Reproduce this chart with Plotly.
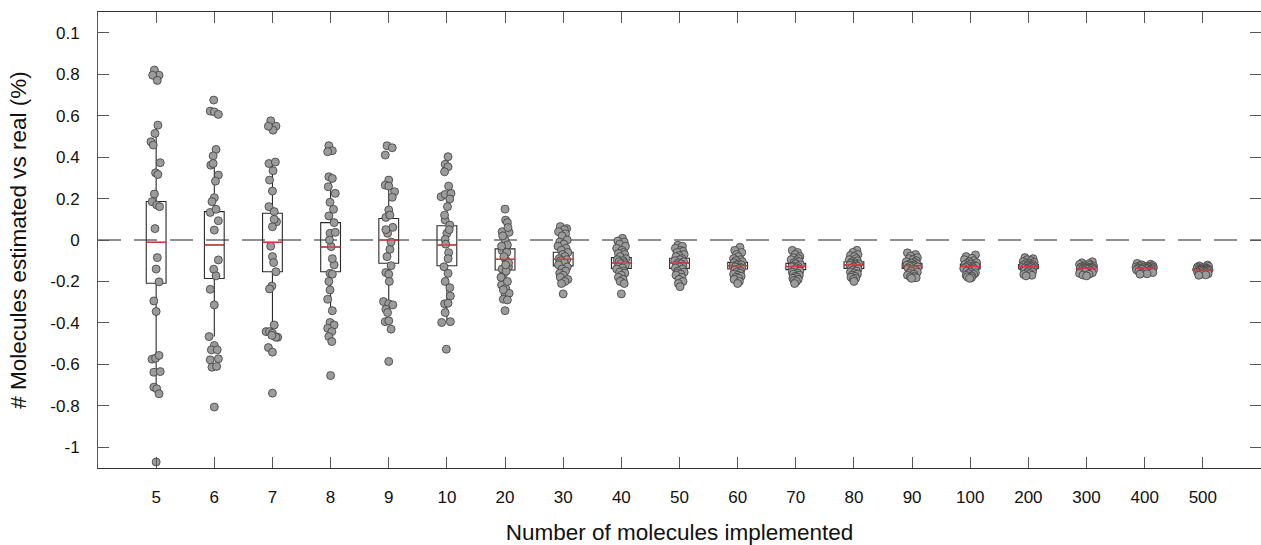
import plotly.graph_objects as go

# ---------------- data ----------------
categories = ["5", "6", "7", "8", "9", "10", "20", "30", "40", "50",
              "60", "70", "80", "90", "100", "200", "300", "400", "500"]

y_tickvals = [-1, -0.8, -0.6, -0.4, -0.2, 0, 0.2, 0.4, 0.6, 0.8, 1.0]
y_ticktext = ["-1", "-0.8", "-0.6", "-0.4", "-0.2", "0", "0.2", "0.4", "0.6", "0.8", "0.1"]

# box statistics per category
q1 = [-0.209, -0.186, -0.153, -0.153, -0.112, -0.124, -0.145, -0.125, -0.137, -0.137,
      -0.140, -0.143, -0.137, -0.137, -0.140, -0.138, -0.142, -0.141, -0.148]
median = [-0.011, -0.024, -0.011, -0.034, 0.000, -0.024, -0.093, -0.093, -0.111, -0.111,
          -0.124, -0.128, -0.120, -0.124, -0.128, -0.128, -0.136, -0.136, -0.144]
q3 = [0.186, 0.137, 0.129, 0.084, 0.104, 0.069, -0.043, -0.059, -0.085, -0.088,
      -0.108, -0.113, -0.105, -0.112, -0.116, -0.118, -0.130, -0.131, -0.140]
whisker_low = [-0.740, -0.466, -0.450, -0.360, -0.320, -0.390, -0.290, -0.210, -0.200, -0.210,
               -0.200, -0.200, -0.190, -0.180, -0.180, -0.170, -0.170, -0.165, -0.170]
whisker_high = [0.554, 0.434, 0.370, 0.280, 0.300, 0.230, 0.100, 0.060, 0.000, -0.030,
                -0.040, -0.050, -0.050, -0.065, -0.075, -0.085, -0.105, -0.113, -0.121]

# individual measurements per category
vals_5 = [0.82, 0.795, 0.795, 0.77, 0.554, 0.514, 0.474, 0.458, 0.373, 0.324, 0.316, 0.222,
          0.185, 0.169, 0.161, 0.055, -0.085, -0.14, -0.202, -0.294, -0.345, -0.575, -0.57,
          -0.557, -0.638, -0.635, -0.71, -0.718, -0.742, -1.071]
vals_6 = [0.675, 0.622, 0.618, 0.606, 0.437, 0.406, 0.361, 0.369, 0.313, 0.284, 0.204, 0.185,
          0.133, 0.148, 0.093, 0.048, -0.096, -0.141, -0.173, -0.238, -0.313, -0.466, -0.509,
          -0.53, -0.53, -0.578, -0.573, -0.614, -0.61, -0.806]
vals_7 = [0.575, 0.549, 0.53, 0.549, 0.369, 0.376, 0.334, 0.289, 0.236, 0.161, 0.137, 0.088,
          0.064, -0.08, -0.109, -0.153, -0.222, -0.236, -0.41, -0.442, -0.442, -0.45, -0.469,
          -0.469, -0.519, -0.541, -0.739, 0.10, -0.03, -0.46]
vals_8 = [0.455, 0.431, 0.426, 0.305, 0.297, 0.257, 0.225, 0.182, 0.148, 0.116, 0.084, 0.032,
          0.037, -0.032, -0.12, -0.161, -0.165, -0.2, -0.241, -0.286, -0.341, -0.398, -0.41,
          -0.426, -0.442, -0.466, -0.49, -0.654, 0.0, -0.09]
vals_9 = [0.455, 0.445, 0.41, 0.289, 0.265, 0.26, 0.233, 0.206, 0.145, 0.109, 0.061, 0.032,
          -0.045, -0.124, -0.157, -0.165, -0.297, -0.308, -0.313, -0.334, -0.394, -0.39, -0.43,
          -0.586, 0.12, 0.05, -0.01, -0.08, -0.2, -0.35]
vals_10 = [0.402, 0.365, 0.353, 0.329, 0.209, 0.22, 0.225, 0.198, 0.161, 0.096, 0.072, 0.032,
           0.003, -0.061, -0.129, -0.161, -0.27, -0.308, -0.305, -0.35, -0.398, -0.394, -0.527,
           0.26, 0.12, 0.05, -0.02, -0.09, -0.2, -0.23]
vals_20 = [0.149, 0.096, 0.084, 0.04, 0.037, 0.0, -0.024, -0.051, -0.096, -0.129, -0.161, -0.217,
           -0.233, -0.262, -0.257, -0.286, -0.289, -0.341, 0.02, 0.06, -0.03, -0.06, -0.08, -0.11,
           -0.14, -0.15, -0.18, -0.2, -0.24, -0.12]
vals_30 = [0.065, 0.055, 0.05, 0.04, 0.03, 0.02, 0.0, -0.01, -0.02, -0.03, -0.04, -0.05, -0.06,
           -0.07, -0.08, -0.09, -0.095, -0.1, -0.11, -0.12, -0.13, -0.14, -0.15, -0.16, -0.17,
           -0.18, -0.19, -0.2, -0.21, -0.26]
vals_40 = [0.008, -0.005, -0.01, -0.02, -0.03, -0.04, -0.05, -0.06, -0.065, -0.07, -0.08, -0.09,
           -0.095, -0.1, -0.105, -0.11, -0.115, -0.12, -0.13, -0.135, -0.14, -0.15, -0.155, -0.16,
           -0.17, -0.18, -0.19, -0.2, -0.21, -0.26]
vals_50 = [-0.025, -0.03, -0.04, -0.05, -0.055, -0.06, -0.07, -0.075, -0.08, -0.09, -0.095, -0.1,
           -0.105, -0.11, -0.115, -0.12, -0.125, -0.13, -0.135, -0.14, -0.15, -0.155, -0.16, -0.165,
           -0.17, -0.18, -0.19, -0.2, -0.21, -0.225]
vals_60 = [-0.035, -0.05, -0.06, -0.07, -0.08, -0.09, -0.095, -0.1, -0.105, -0.11, -0.115, -0.12,
           -0.12, -0.125, -0.13, -0.13, -0.135, -0.14, -0.145, -0.15, -0.155, -0.16, -0.165, -0.17,
           -0.175, -0.18, -0.185, -0.19, -0.2, -0.21]
vals_70 = [-0.05, -0.06, -0.07, -0.08, -0.085, -0.09, -0.095, -0.1, -0.105, -0.11, -0.115, -0.12,
           -0.125, -0.128, -0.13, -0.135, -0.14, -0.145, -0.15, -0.155, -0.16, -0.165, -0.17,
           -0.175, -0.18, -0.185, -0.19, -0.195, -0.2, -0.21]
vals_80 = [-0.05, -0.06, -0.07, -0.075, -0.08, -0.09, -0.095, -0.1, -0.105, -0.11, -0.112, -0.115,
           -0.118, -0.12, -0.122, -0.125, -0.13, -0.135, -0.14, -0.145, -0.15, -0.155, -0.16,
           -0.165, -0.17, -0.175, -0.18, -0.185, -0.19, -0.2]
vals_90 = [-0.062, -0.07, -0.078, -0.085, -0.09, -0.095, -0.1, -0.105, -0.108, -0.112, -0.115,
           -0.118, -0.12, -0.122, -0.124, -0.126, -0.128, -0.13, -0.135, -0.14, -0.145, -0.15,
           -0.155, -0.16, -0.165, -0.17, -0.175, -0.178, -0.182, -0.185]
vals_100 = [-0.072, -0.08, -0.088, -0.095, -0.1, -0.105, -0.11, -0.113, -0.116, -0.119, -0.122,
            -0.124, -0.126, -0.128, -0.13, -0.132, -0.135, -0.138, -0.141, -0.145, -0.15, -0.155,
            -0.158, -0.162, -0.166, -0.17, -0.174, -0.178, -0.182, -0.185]
vals_200 = [-0.085, -0.09, -0.095, -0.1, -0.105, -0.108, -0.111, -0.114, -0.117, -0.12, -0.122,
            -0.124, -0.126, -0.128, -0.129, -0.13, -0.132, -0.134, -0.136, -0.138, -0.141, -0.144,
            -0.147, -0.15, -0.154, -0.158, -0.162, -0.166, -0.17, -0.173]
vals_300 = [-0.105, -0.11, -0.114, -0.118, -0.121, -0.124, -0.126, -0.128, -0.13, -0.131, -0.132,
            -0.134, -0.135, -0.136, -0.137, -0.138, -0.139, -0.14, -0.142, -0.144, -0.146, -0.148,
            -0.15, -0.152, -0.155, -0.158, -0.161, -0.165, -0.169, -0.173]
vals_400 = [-0.113, -0.117, -0.12, -0.123, -0.125, -0.127, -0.129, -0.13, -0.131, -0.132, -0.133,
            -0.134, -0.135, -0.136, -0.137, -0.138, -0.139, -0.14, -0.141, -0.142, -0.144, -0.146,
            -0.148, -0.15, -0.152, -0.154, -0.157, -0.16, -0.163, -0.165]
vals_500 = [-0.121, -0.125, -0.128, -0.131, -0.133, -0.135, -0.137, -0.138, -0.139, -0.14, -0.141,
            -0.142, -0.143, -0.144, -0.145, -0.146, -0.147, -0.148, -0.149, -0.15, -0.151, -0.153,
            -0.155, -0.157, -0.159, -0.161, -0.163, -0.165, -0.168, -0.17]

# horizontal jitter of each point (category units)
jit_5 = [-0.03, 0.05, -0.06, 0.02, 0.03, -0.02, -0.09, -0.05, 0.07, -0.01, 0.03, -0.03, -0.07, 0.01,
         0.06, -0.02, 0.02, 0.0, 0.05, -0.04, 0.0, -0.07, -0.01, 0.05, -0.04, 0.07, -0.04, 0.01, 0.05, 0.0]
jit_6 = [-0.01, -0.07, 0.0, 0.07, 0.03, -0.02, -0.06, -0.02, 0.07, 0.02, 0.0, -0.04, -0.07, 0.03,
         0.07, 0.0, 0.07, -0.01, 0.03, -0.07, 0.0, -0.09, 0.0, -0.05, 0.05, -0.07, 0.07, -0.04, 0.04, 0.0]
jit_7 = [-0.03, 0.06, 0.01, -0.07, -0.06, 0.05, 0.01, -0.05, 0.0, -0.06, 0.03, 0.07, 0.0, 0.0,
         0.02, 0.06, -0.01, -0.05, 0.03, -0.11, -0.05, 0.0, 0.09, 0.06, -0.07, 0.0, 0.0, 0.03, -0.03, -0.01]
jit_8 = [-0.03, 0.03, -0.05, -0.03, 0.03, -0.04, 0.08, -0.01, 0.05, -0.03, 0.06, -0.01, 0.08, 0.01,
         0.06, -0.01, 0.03, -0.03, -0.01, -0.05, 0.03, -0.01, 0.06, -0.05, 0.02, -0.03, 0.02, 0.0, -0.02, 0.03]
jit_9 = [-0.03, 0.06, -0.06, 0.0, -0.06, 0.0, 0.1, 0.06, 0.0, -0.05, 0.07, -0.02, 0.02, 0.04,
         -0.05, 0.0, -0.09, 0.0, 0.07, -0.05, -0.06, 0.0, 0.04, 0.0, 0.02, -0.05, 0.04, -0.03, 0.01, -0.02]
jit_10 = [0.02, -0.03, 0.02, -0.04, -0.1, -0.03, 0.07, 0.05, 0.01, -0.03, 0.05, 0.0, -0.03, 0.03,
          -0.05, 0.02, 0.06, -0.04, 0.02, -0.03, -0.09, 0.06, -0.01, 0.03, -0.04, 0.04, -0.02, 0.02, -0.03, 0.05]
jit_20 = [0.0, 0.01, 0.04, -0.05, 0.07, 0.0, 0.04, -0.05, 0.01, 0.06, -0.02, -0.06, 0.01, 0.0,
          0.07, -0.03, 0.04, 0.0, -0.04, 0.05, -0.06, 0.03, -0.02, 0.06, -0.05, 0.02, -0.07, 0.04, -0.03, 0.01]
jit_30 = [-0.05, 0.06, 0.02, -0.08, 0.04, -0.02, 0.07, -0.06, 0.01, -0.09, 0.05, -0.03, 0.08, -0.01,
          0.03, -0.07, 0.06, -0.04, 0.02, -0.08, 0.07, -0.02, 0.04, -0.06, 0.0, -0.05, 0.08, 0.03, -0.03, 0.0]
jit_40 = [0.02, -0.06, 0.05, -0.03, 0.07, -0.08, 0.01, 0.04, -0.05, 0.06, -0.02, 0.08, -0.07, 0.03,
          -0.04, 0.05, -0.01, 0.07, -0.06, 0.02, -0.08, 0.04, -0.03, 0.06, 0.0, -0.05, 0.03, -0.02, 0.05, 0.0]
jit_50 = [-0.03, 0.05, -0.07, 0.02, 0.06, -0.04, 0.08, -0.01, -0.06, 0.04, 0.01, -0.08, 0.07, -0.02,
          0.03, -0.05, 0.06, 0.0, -0.07, 0.05, -0.03, 0.08, -0.04, 0.02, -0.06, 0.04, -0.01, 0.06, -0.02, 0.01]
jit_60 = [0.04, -0.05, 0.07, -0.02, 0.01, -0.07, 0.05, -0.03, 0.08, -0.06, 0.02, -0.01, 0.06, -0.08,
          0.03, -0.04, 0.07, 0.0, -0.05, 0.05, -0.02, 0.04, -0.07, 0.01, 0.06, -0.03, 0.02, -0.06, 0.03, 0.0]
jit_70 = [-0.06, 0.03, -0.01, 0.07, -0.04, 0.05, -0.08, 0.02, 0.06, -0.03, 0.0, 0.08, -0.05, 0.04,
          -0.07, 0.01, 0.05, -0.02, 0.07, -0.06, 0.03, -0.04, 0.06, -0.01, 0.02, -0.05, 0.04, -0.03, 0.01, -0.02]
jit_80 = [0.05, -0.02, 0.07, -0.06, 0.01, 0.04, -0.08, 0.06, -0.03, 0.02, -0.05, 0.08, -0.01, 0.03,
          -0.07, 0.05, 0.0, -0.04, 0.07, -0.02, 0.04, -0.06, 0.01, 0.06, -0.03, 0.02, -0.05, 0.03, -0.01, 0.0]
jit_90 = [-0.08, 0.06, -0.03, 0.09, -0.05, 0.02, 0.07, -0.1, 0.04, -0.01, 0.08, -0.06, 0.03, -0.09,
          0.05, 0.0, -0.04, 0.1, -0.07, 0.01, 0.06, -0.02, 0.09, -0.05, 0.03, -0.08, 0.04, -0.03, 0.07, -0.01]
jit_100 = [0.09, -0.07, 0.03, -0.1, 0.06, -0.02, 0.11, -0.05, 0.01, -0.09, 0.07, -0.04, 0.1, -0.01,
           0.04, -0.08, 0.05, -0.11, 0.02, 0.08, -0.06, 0.0, 0.09, -0.03, 0.06, -0.07, 0.03, -0.05, 0.02, -0.01]
jit_200 = [-0.06, 0.08, -0.02, 0.05, -0.09, 0.1, 0.01, -0.05, 0.07, -0.08, 0.03, -0.01, 0.09, -0.04,
           0.06, -0.1, 0.02, 0.04, -0.07, 0.08, -0.03, 0.05, -0.06, 0.0, 0.07, -0.02, 0.03, -0.08, 0.06, -0.04]
jit_300 = [0.1, -0.08, 0.04, -0.12, 0.07, -0.03, 0.12, -0.06, 0.01, -0.1, 0.09, -0.04, 0.11, -0.01,
           0.05, -0.11, 0.08, -0.07, 0.02, 0.12, -0.05, 0.06, -0.09, 0.03, -0.02, 0.1, -0.12, 0.04, -0.06, 0.0]
jit_400 = [-0.13, 0.1, -0.05, 0.14, -0.09, 0.03, 0.12, -0.15, 0.06, -0.02, 0.15, -0.11, 0.08, -0.07,
           0.01, 0.13, -0.12, 0.05, -0.04, 0.11, -0.14, 0.09, -0.01, 0.07, -0.1, 0.02, 0.14, -0.06, 0.04, -0.08]
jit_500 = [0.08, -0.06, 0.1, -0.09, 0.03, -0.02, 0.07, -0.1, 0.05, -0.04, 0.09, 0.0, -0.07, 0.06,
           -0.03, 0.1, -0.08, 0.02, -0.05, 0.08, -0.01, 0.04, -0.09, 0.06, -0.06, 0.01, 0.09, -0.03, 0.05, -0.07]

all_vals = [vals_5, vals_6, vals_7, vals_8, vals_9, vals_10, vals_20, vals_30, vals_40, vals_50,
            vals_60, vals_70, vals_80, vals_90, vals_100, vals_200, vals_300, vals_400, vals_500]
all_jit = [jit_5, jit_6, jit_7, jit_8, jit_9, jit_10, jit_20, jit_30, jit_40, jit_50,
           jit_60, jit_70, jit_80, jit_90, jit_100, jit_200, jit_300, jit_400, jit_500]

# ---------------- figure ----------------
positions = list(range(1, len(categories) + 1))
BOX_W = 0.34
FONT = "Liberation Sans, Arial, Helvetica, sans-serif"

fig = go.Figure()

# boxes + whiskers
fig.add_trace(go.Box(
    x=positions, q1=q1, median=median, q3=q3,
    lowerfence=whisker_low, upperfence=whisker_high,
    width=BOX_W, whiskerwidth=0, boxpoints=False,
    line=dict(color="#2a2a2a", width=1.1),
    fillcolor="rgba(0,0,0,0)", showlegend=False, hoverinfo="skip",
))

# jittered points
px, py = [], []
for pos, vals, jit in zip(positions, all_vals, all_jit):
    for v, j in zip(vals, jit):
        px.append(pos + j)
        py.append(v)
fig.add_trace(go.Scatter(
    x=px, y=py, mode="markers", showlegend=False, hoverinfo="skip",
    marker=dict(size=8, color="#9b9b9b", line=dict(color="#3c3c3c", width=0.8)),
))

# red medians
mx, my = [], []
for pos, m in zip(positions, median):
    mx += [pos - BOX_W / 2, pos + BOX_W / 2, None]
    my += [m, m, None]
fig.add_trace(go.Scatter(
    x=mx, y=my, mode="lines", showlegend=False, hoverinfo="skip",
    line=dict(color="#e0343c", width=1.3),
))

# zero reference (dashed)
fig.add_hline(y=0, line=dict(color="#8f8f8f", width=2, dash="23px,13px"), layer="below")

fig.update_layout(
    width=1261, height=545,
    margin=dict(l=98, r=0, t=12, b=77, pad=0),
    paper_bgcolor="white", plot_bgcolor="white",
    font=dict(family=FONT, color="#111111", size=17),
    showlegend=False,
)
fig.update_xaxes(
    range=[0, 20], tickmode="array", tickvals=positions, ticktext=categories,
    showgrid=False, zeroline=False,
    showline=True, linecolor="#333333", linewidth=1, mirror="ticks",
    ticks="inside", ticklen=11, tickwidth=1, tickcolor="#555555",
    ticklabelstandoff=14, tickfont=dict(size=17),
    title=dict(text="Number of molecules implemented", font=dict(size=22.5), standoff=18),
    automargin=False,
)
fig.update_yaxes(
    range=[-1.1, 1.1], tickmode="array", tickvals=y_tickvals, ticktext=y_ticktext,
    showgrid=False, zeroline=False,
    showline=True, linecolor="#555555", linewidth=1, mirror="ticks",
    ticks="inside", ticklen=11, tickwidth=1, tickcolor="#555555",
    ticklabelstandoff=14, tickfont=dict(size=17),
    title=dict(text="# Molecules estimated vs real (%)", font=dict(size=22.5), standoff=17),
    automargin=False,
)

fig.write_html("out.html")
